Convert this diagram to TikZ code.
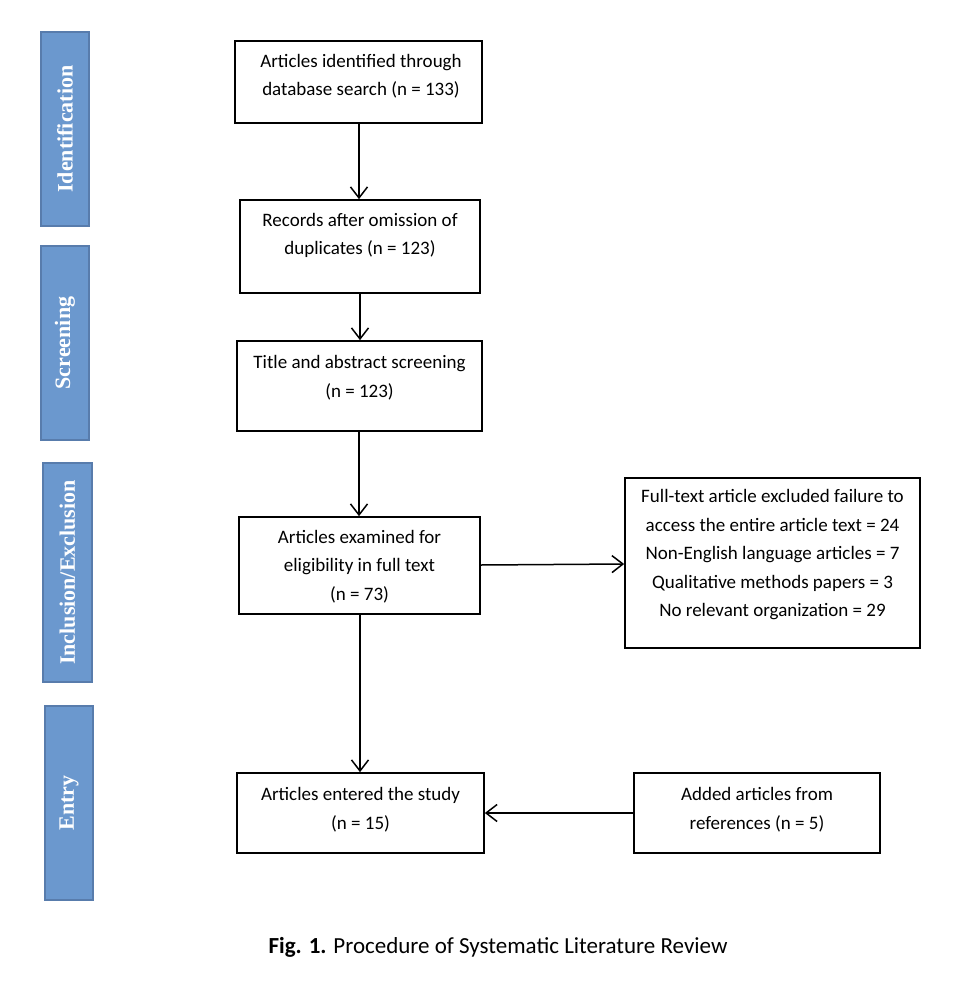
\documentclass[tikz,border=0pt]{standalone}
\usepackage{fontspec}
\setmainfont{Carlito}
\newfontfamily\sidefont{Liberation Serif}
\usetikzlibrary{arrows.meta}
\definecolor{barfill}{RGB}{107,152,206}
\definecolor{barline}{RGB}{88,124,172}
\begin{document}
\begin{tikzpicture}[x=1pt,y=-1pt,
  box/.style={draw=black,line width=1.7pt,inner sep=0pt},
  txt/.style={align=center,font=\fontsize{19}{28.5}\selectfont,inner sep=0pt},
  bar/.style={draw=barline,fill=barfill,line width=1.5pt,inner sep=0pt},
  barlabel/.style={rotate=90,text=white,font=\sidefont\bfseries\fontsize{22}{26}\selectfont},
  conn/.style={line width=1.5pt,-{Straight Barb[length=11pt,width=17pt,line width=1.5pt]}}]
\useasboundingbox[fill=white] (0,0) rectangle (976,1004);
% side bars
\node[bar,minimum width=48pt,minimum height=194pt] (s1) at (65,129) {};
\node[barlabel] (s1t) at (s1.center) {Identification};
\node[bar,minimum width=48pt,minimum height=194pt] (s2) at (65,343) {};
\node[barlabel] (s2t) at (s2.center) {Screening};
\node[bar,minimum width=49pt,minimum height=219pt] (s3) at (67.5,572.5) {};
\node[barlabel] (s3t) at (s3.center) {Inclusion/Exclusion};
\node[bar,minimum width=48pt,minimum height=194pt] (s4) at (69,803) {};
\node[barlabel] (s4t) at (s4.center) {Entry};
% boxes
\node[box,minimum width=247pt,minimum height=82pt] (b1) at (358.5,82) {};
\node[txt] (b1t) at (361,76) {Articles identified through\\database search (n = 133)};
\node[box,minimum width=240pt,minimum height=93pt] (b2) at (360,246.5) {};
\node[txt] (b2t) at (360,235.5) {Records after omission of\\duplicates (n = 123)};
\node[box,minimum width=245pt,minimum height=90pt] (b3) at (359.5,386) {};
\node[txt] (b3t) at (359.5,377.5) {Title and abstract screening\\(n = 123)};
\node[box,minimum width=241pt,minimum height=97pt] (b4) at (359.5,565.5) {};
\node[txt] (b4t) at (359.5,566.5) {Articles examined for\\eligibility in full text\\(n = 73)};
\node[box,minimum width=247pt,minimum height=80pt] (b5) at (360.5,813) {};
\node[txt] (b5t) at (360.5,809.5) {Articles entered the study\\(n = 15)};
\node[box,minimum width=295pt,minimum height=170pt] (ex) at (772.5,563) {};
\node[txt] (ext) at (772.5,555) {Full-text article excluded failure to\\access the entire article text = 24\\Non-English language articles = 7\\Qualitative methods papers = 3\\No relevant organization = 29};
\node[box,minimum width=246pt,minimum height=80pt] (ad) at (757,813) {};
\node[txt] (adt) at (757,809.5) {Added articles from\\references (n = 5)};
% connectors
\draw[conn] (b1.south -| 359,0) -- (b2.north -| 359,0);
\draw[conn] (b2.south -| 360,0) -- (b3.north -| 360,0);
\draw[conn] (b3.south -| 359,0) -- (b4.north -| 359,0);
\draw[conn] (b4.south -| 360,0) -- (b5.north -| 360,0);
\draw[conn] (b4.east |- 0,565) -- (ex.west |- 0,564);
\draw[conn] (ad.west) -- (b5.east);
% caption
\node[font=\fontsize{23}{26}\selectfont,inner sep=0pt] (cap) at (498,947) {\textbf{Fig. 1.} Procedure of Systematic Literature Review};
\end{tikzpicture}
\end{document}
